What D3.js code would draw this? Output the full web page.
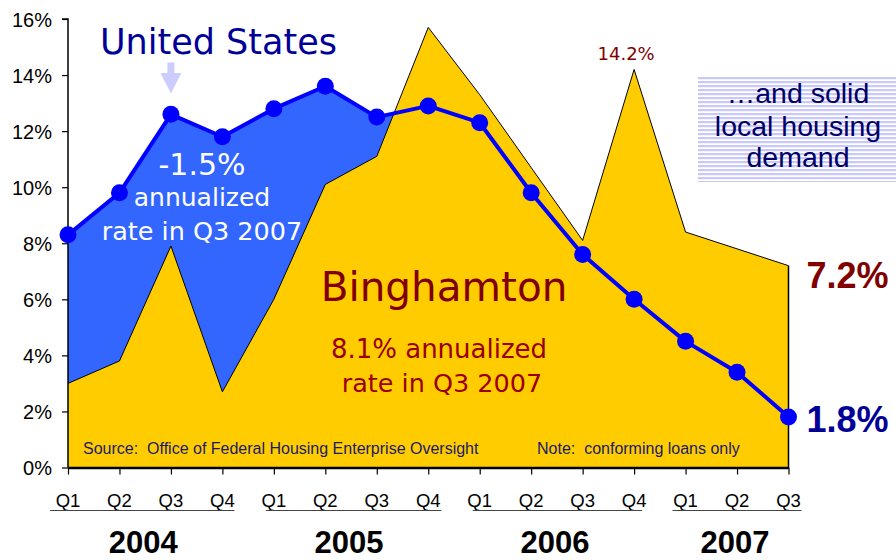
<!DOCTYPE html>
<html>
<head>
<meta charset="utf-8">
<script src="https://cdn.jsdelivr.net/npm/d3@7"></script>
<style>
  html, body { margin: 0; padding: 0; background: #fff; }
  svg { display: block; }
  text { white-space: pre; }
</style>
</head>
<body>
<svg id="chart" width="896" height="560"></svg>
<script>
// ---- Data ----
const quarters = ["Q1","Q2","Q3","Q4","Q1","Q2","Q3","Q4","Q1","Q2","Q3","Q4","Q1","Q2","Q3"];
const years = ["2004","2005","2006","2007"];
const yearSpans = [[0,3],[4,7],[8,11],[12,14]];
const usValues = [8.3, 9.8, 12.6, 11.8, 12.8, 13.6, 12.5, 12.9, 12.3, 9.8, 7.6, 6.0, 4.5, 3.4, 1.8];
const binghamtonValues = [3.0, 3.8, 7.9, 2.7, 6.0, 10.1, 11.1, 15.7, 13.3, 10.7, 8.1, 14.2, 8.4, 7.8, 7.2];
const yTicks = [0, 2, 4, 6, 8, 10, 12, 14, 16];

const svg = d3.select("#chart");
const idx = d3.range(quarters.length);

const x = d3.scaleLinear().domain([0, quarters.length - 1]).range([68, 788.5]);
const y = d3.scaleLinear().domain([0, 16]).range([467.5, 19]);

const TAHOMA = "Tahoma, 'DejaVu Sans', Verdana, sans-serif";
const ARIAL = "'Liberation Sans', Arial, sans-serif";

// pattern for annotation box
const defs = svg.append("defs");
const pat = defs.append("pattern").attr("id", "stripes")
  .attr("patternUnits", "userSpaceOnUse").attr("width", 8).attr("height", 4).attr("y", 77);
pat.append("rect").attr("width", 8).attr("height", 4).attr("fill", "#ffffff");
pat.append("rect").attr("width", 8).attr("height", 2.2).attr("fill", "#c8c8fa");

// ---- US area (blue) ----
svg.append("path")
  .attr("fill", "#3366ff")
  .attr("d", d3.area().x(i => x(i)).y0(y(0)).y1(i => y(usValues[i]))(idx));

// ---- Binghamton area (yellow) ----
svg.append("path")
  .attr("fill", "#ffcc00")
  .attr("d", d3.area().x(i => x(i)).y0(y(0)).y1(i => y(binghamtonValues[i]))(idx));

svg.append("path")
  .attr("fill", "none").attr("stroke", "#000").attr("stroke-width", 1)
  .attr("d", d3.line().x(i => x(i)).y(i => y(binghamtonValues[i]))(idx));
const last = idx.length - 1;
svg.append("line")
  .attr("x1", x(last)).attr("x2", x(last))
  .attr("y1", y(binghamtonValues[last])).attr("y2", y(0))
  .attr("stroke", "#000").attr("stroke-width", 1.5);

// ---- Axes ----
const yAxis = d3.axisLeft(y).tickValues(yTicks).tickFormat(d => d + "%").tickSize(6).tickPadding(10);
const gy = svg.append("g").attr("transform", `translate(${x(0)},0)`).call(yAxis);
gy.select(".domain").attr("stroke", "#000").attr("stroke-width", 1.5).attr("d", `M-6,${y(16)}H0V${y(0)}`);
gy.selectAll(".tick line").attr("stroke", "#000").attr("stroke-width", 1.2);
gy.selectAll(".tick text").attr("font-family", ARIAL).attr("font-size", 20).attr("fill", "#000").attr("dy", "0.36em");

const xAxis = d3.axisBottom(x).tickValues(idx).tickFormat("").tickSize(7).tickSizeOuter(0);
const gx = svg.append("g").attr("transform", `translate(0,${y(0)})`).call(xAxis);
gx.select(".domain").attr("stroke", "#000").attr("stroke-width", 2.5);
gx.selectAll(".tick line").attr("stroke", "#000").attr("stroke-width", 1.2);

// quarter labels
svg.append("g").selectAll("text").data(idx).join("text")
  .attr("x", i => x(i)).attr("y", 506.5)
  .attr("text-anchor", "middle")
  .attr("font-family", ARIAL).attr("font-size", 18.5).attr("fill", "#000")
  .text(i => quarters[i]);

// year underlines and labels
const underlineOffsets = [[-18, 12], [-8, 13], [-7, 8], [-13, 13]];
svg.append("g").selectAll("line").data(yearSpans).join("line")
  .attr("x1", (s, k) => x(s[0]) + underlineOffsets[k][0])
  .attr("x2", (s, k) => x(s[1]) + underlineOffsets[k][1])
  .attr("y1", 510.5).attr("y2", 510.5)
  .attr("stroke", "#444").attr("stroke-width", 1.2);
svg.append("g").selectAll("text").data(yearSpans).join("text")
  .attr("x", s => (x(s[0]) + x(s[1])) / 2 - 2)
  .attr("y", 553)
  .attr("text-anchor", "middle")
  .attr("font-family", ARIAL).attr("font-size", 31).attr("font-weight", "bold").attr("fill", "#000")
  .text((s, k) => years[k]);

// ---- US line and dots ----
svg.append("path")
  .attr("fill", "none").attr("stroke", "#0000ff").attr("stroke-width", 4)
  .attr("stroke-linejoin", "round")
  .attr("d", d3.line().x(i => x(i)).y(i => y(usValues[i]))(idx));
svg.append("g").selectAll("circle").data(idx).join("circle")
  .attr("cx", i => x(i)).attr("cy", i => y(usValues[i])).attr("r", 8.5)
  .attr("fill", "#0000ff");

// ---- Source / note ----
svg.append("text").attr("x", 83).attr("y", 453.5)
  .attr("font-family", ARIAL).attr("font-size", 16).attr("fill", "#1a1a66")
  .text("Source:  Office of Federal Housing Enterprise Oversight");
svg.append("text").attr("x", 537).attr("y", 453.5)
  .attr("font-family", ARIAL).attr("font-size", 16).attr("fill", "#1a1a66")
  .text("Note:  conforming loans only");

// ---- Annotations ----
svg.append("text").attr("x", 100).attr("y", 53.5)
  .attr("font-family", TAHOMA).attr("font-size", 35).attr("fill", "#000099")
  .text("United States");

// arrow
const ax = x(2);
svg.append("path")
  .attr("fill", "#ccccff")
  .attr("d", `M${ax-3.5},62.5 H${ax+3.5} V73 H${ax+10.5} L${ax},93.5 L${ax-10.5},73 H${ax-3.5} Z`);

const usNote = [["-1.5%", 30, 175], ["annualized", 25, 206], ["rate in Q3 2007", 25.5, 239.5]];
svg.append("g").selectAll("text").data(usNote).join("text")
  .attr("x", 202).attr("y", d => d[2])
  .attr("text-anchor", "middle")
  .attr("font-family", TAHOMA).attr("font-size", d => d[1]).attr("fill", "#ffffff")
  .text(d => d[0]);

svg.append("text").attr("x", 444).attr("y", 301)
  .attr("text-anchor", "middle")
  .attr("font-family", TAHOMA).attr("font-size", 40.5).attr("fill", "#800000")
  .text("Binghamton");
const bNote = [["8.1% annualized", 26, 358, 439], ["rate in Q3 2007", 25.5, 391.5, 442]];
svg.append("g").selectAll("text").data(bNote).join("text")
  .attr("x", d => d[3]).attr("y", d => d[2])
  .attr("text-anchor", "middle")
  .attr("font-family", TAHOMA).attr("font-size", d => d[1]).attr("fill", "#990000")
  .text(d => d[0]);

// peak label
svg.append("text").attr("x", x(11) - 8).attr("y", y(binghamtonValues[11]) - 9)
  .attr("text-anchor", "middle")
  .attr("font-family", TAHOMA).attr("font-size", 18).attr("fill", "#800000")
  .text(binghamtonValues[11].toFixed(1) + "%");

// end labels
svg.append("text").attr("x", x(last) + 18).attr("y", y(binghamtonValues[last]) + 22)
  .attr("font-family", ARIAL).attr("font-size", 36).attr("font-weight", "bold").attr("fill", "#800000")
  .text(binghamtonValues[last].toFixed(1) + "%");
svg.append("text").attr("x", x(last) + 18).attr("y", y(usValues[last]) + 14.5)
  .attr("font-family", ARIAL).attr("font-size", 36).attr("font-weight", "bold").attr("fill", "#000099")
  .text(usValues[last].toFixed(1) + "%");

// annotation box
svg.append("rect").attr("x", 698).attr("y", 77).attr("width", 198).attr("height", 105)
  .attr("fill", "url(#stripes)");
const boxLines = [["\u2026and solid", 103], ["local housing", 135.5], ["demand", 167]];
svg.append("g").selectAll("text").data(boxLines).join("text")
  .attr("x", 798).attr("y", d => d[1])
  .attr("text-anchor", "middle")
  .attr("font-family", ARIAL).attr("font-size", 28.5).attr("fill", "#000066")
  .text(d => d[0]);
</script>
</body>
</html>
